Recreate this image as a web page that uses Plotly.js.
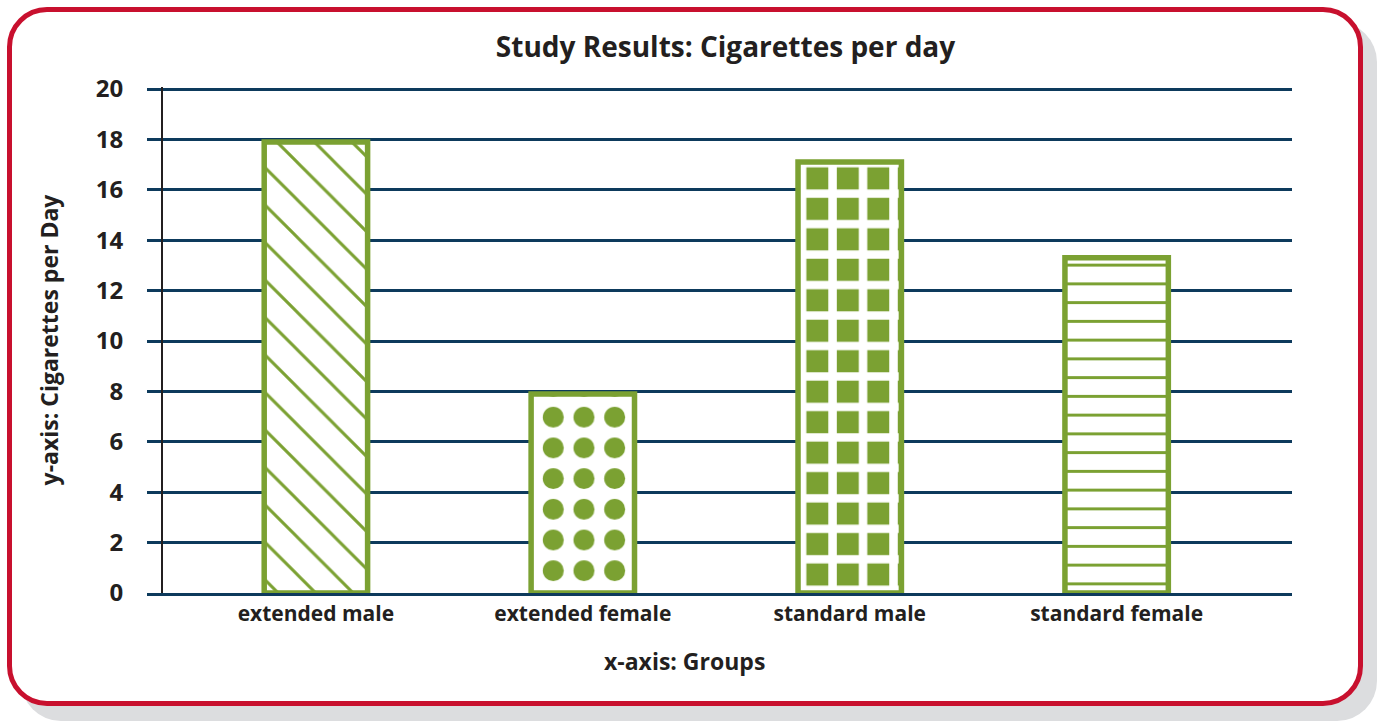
<!DOCTYPE html>
<html>
<head>
<meta charset="utf-8">
<script src="https://cdn.plot.ly/plotly-3.0.1.min.js"></script>
<style>
  html, body { margin: 0; padding: 0; background: #ffffff; overflow: hidden; }
  #frame {
    position: absolute; left: 7px; top: 7px; width: 1356px; height: 699px;
    box-sizing: border-box; border: 5px solid #c8102e; border-radius: 40px;
    background: #ffffff; box-shadow: 14px 15px 0 #dcdddf;
  }
  #chart { position: absolute; left: 0; top: 0; width: 1377px; height: 721px; }
</style>
</head>
<body>
<div id="frame"></div>
<div id="chart"></div>
<script>
// ---- data ----
const categories = ['extended male', 'extended female', 'standard male', 'standard female'];
const cigarettesPerDay = [17.9, 7.9, 17.1, 13.3];
const yTickValues = [0, 2, 4, 6, 8, 10, 12, 14, 16, 18, 20];
const chartTitle = 'Study Results: Cigarettes per day';
const xTitle = 'x-axis: Groups';
const yTitle = 'y-axis: Cigarettes per Day';

// ---- styles ----
const GREEN = '#7ba132';
const NAVY = '#0d3a5c';
const INK = '#231f20';
const FONT = '"Open Sans", Lato, sans-serif';
const patternShapes = ['\\', '.', '+', '-'];
const patternSizes = [26.5, 30.7, 30.47, 18.75];
const patternSolidity = [0.113, 0.3678, 0.4802, 0.16];
const patternFg = [GREEN, GREEN, '#ffffff', GREEN];
const patternBg = ['#ffffff', '#ffffff', GREEN, '#ffffff'];

// ---- geometry (layout only) ----
const yTop = 20.08;                 // keeps the 20 gridline just inside the plot
const xRange = [-0.6328, 3.657];
const xSpan = xRange[1] - xRange[0];
// secondary, hidden axes shift the pattern origin of the dotted bar
const dotDomainX = [0.01969, 1];
const dotDomainY = [0, 0.98449];
const barXAxis = ['x', 'x2', 'x', 'x'];
const barYAxis = ['y', 'y2', 'y', 'y'];
const boundaryTicks = categories.slice(1).map((_, i) => i + 0.5);

const traces = categories.map((cat, i) => ({
  type: 'bar',
  x: [cat],
  y: [cigarettesPerDay[i]],
  xaxis: barXAxis[i],
  yaxis: barYAxis[i],
  width: 0.3874,
  marker: {
    color: '#ffffff',
    line: { color: GREEN, width: 5.5 },
    pattern: {
      shape: patternShapes[i],
      size: patternSizes[i],
      solidity: patternSolidity[i],
      fgcolor: patternFg[i],
      bgcolor: patternBg[i],
      fgopacity: 1,
      fillmode: 'replace'
    }
  },
  hoverinfo: 'skip',
  showlegend: false
}));

const layout = {
  width: 1377,
  height: 721,
  margin: { l: 147, r: 85, t: 87, b: 128, pad: 0 },
  paper_bgcolor: 'rgba(0,0,0,0)',
  plot_bgcolor: 'rgba(0,0,0,0)',
  font: { family: FONT, color: INK, weight: 700 },
  barmode: 'overlay',
  title: {
    text: chartTitle,
    font: { family: FONT, size: 28, color: INK, weight: 700 },
    xref: 'container', yref: 'container',
    x: 0.5269, xanchor: 'center',
    y: 0.934, yanchor: 'middle'
  },
  xaxis: {
    type: 'category',
    categoryorder: 'array',
    categoryarray: categories,
    range: xRange,
    showgrid: false,
    zeroline: false,
    showline: true,
    linecolor: NAVY,
    linewidth: 3,
    ticks: '',
    tickfont: { family: FONT, size: 21, color: INK, weight: 700 },
    ticklabelstandoff: 0,
    fixedrange: true
  },
  xaxis2: {
    type: 'category',
    categoryorder: 'array',
    categoryarray: categories,
    domain: dotDomainX,
    range: [xRange[0] + dotDomainX[0] * xSpan, xRange[1]],
    anchor: 'y2',
    visible: false,
    showgrid: false,
    fixedrange: true
  },
  xaxis3: {
    overlaying: 'x',
    anchor: 'y',
    type: 'linear',
    range: xRange,
    tickmode: 'array',
    tickvals: boundaryTicks,
    ticks: 'outside',
    ticklen: 12,
    tickwidth: 2.5,
    tickcolor: NAVY,
    showticklabels: false,
    showgrid: false,
    zeroline: false,
    showline: false,
    fixedrange: true
  },
  yaxis: {
    range: [0, yTop],
    anchor: 'free',
    position: 15 / 1145,
    tickmode: 'array',
    tickvals: yTickValues,
    ticks: '',
    showgrid: true,
    gridcolor: NAVY,
    gridwidth: 3,
    zeroline: false,
    showline: true,
    linecolor: INK,
    linewidth: 2,
    tickfont: { family: FONT, size: 24, color: INK, weight: 700 },
    ticklabelstandoff: 33,
    title: {
      text: yTitle,
      font: { family: FONT, size: 23, color: INK, weight: 700 },
      standoff: 30
    },
    fixedrange: true
  },
  yaxis2: {
    domain: dotDomainY,
    range: [0, yTop * dotDomainY[1]],
    anchor: 'x2',
    visible: false,
    showgrid: false,
    fixedrange: true
  },
  yaxis3: {
    overlaying: 'y',
    anchor: 'x',
    side: 'right',
    range: [0, yTop],
    showgrid: false,
    zeroline: false,
    showline: true,
    linecolor: INK,
    linewidth: 2,
    ticks: '',
    showticklabels: false,
    fixedrange: true
  },
  annotations: [{
    text: xTitle,
    xref: 'paper', yref: 'paper',
    x: (684 - 147) / 1145, y: -(661 - 593) / 506,
    xanchor: 'center', yanchor: 'middle',
    showarrow: false,
    font: { family: FONT, size: 23, color: INK, weight: 700 }
  }]
};

Plotly.newPlot('chart', traces, layout, { displayModeBar: false, staticPlot: true });
</script>
</body>
</html>
